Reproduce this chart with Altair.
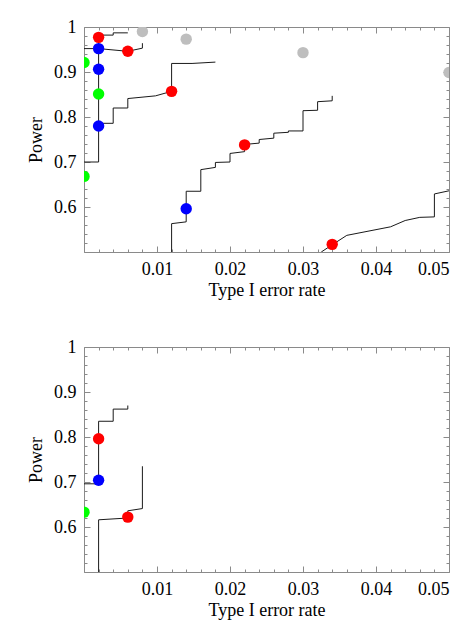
import altair as alt
import pandas as pd

# ---------------- data ----------------
# Top panel: step curves
T1_X = [0.0, 0.002, 0.002, 0.004, 0.004, 0.006]
T1_Y = [0.700, 0.700, 0.982, 0.982, 0.987, 0.987]
T2_X = [0.0, 0.002, 0.006, 0.008, 0.008]
T2_Y = [0.952, 0.952, 0.946, 0.953, 0.964]
T3_X = [0.002, 0.004, 0.004, 0.006, 0.006, 0.0098, 0.012, 0.012, 0.0148, 0.018]
T3_Y = [0.786, 0.786, 0.820, 0.820, 0.841, 0.847, 0.857, 0.919, 0.919, 0.922]
T4_X = [0.012, 0.012, 0.014, 0.014, 0.016, 0.016, 0.018, 0.018, 0.020, 0.020,
        0.022, 0.022, 0.024, 0.024, 0.026, 0.026, 0.028, 0.028, 0.030, 0.030,
        0.032, 0.032, 0.034, 0.034]
T4_Y = [0.490, 0.563, 0.567, 0.635, 0.635, 0.683, 0.688, 0.699, 0.700, 0.719,
        0.723, 0.739, 0.742, 0.750, 0.753, 0.764, 0.766, 0.769, 0.769, 0.814,
        0.815, 0.834, 0.836, 0.847]
T5_X = [0.0325, 0.034, 0.036, 0.042, 0.044, 0.046, 0.048, 0.048, 0.050]
T5_Y = [0.500, 0.516, 0.537, 0.556, 0.570, 0.577, 0.578, 0.629, 0.636]

# Top panel: dots
TP_X = [0.002, 0.006, 0.012, 0.022, 0.034,
        0.002, 0.002, 0.002, 0.014,
        0.0, 0.002, 0.0,
        0.008, 0.014, 0.030, 0.050]
TP_Y = [0.977, 0.946, 0.857, 0.738, 0.517,
        0.952, 0.906, 0.780, 0.596,
        0.921, 0.851, 0.668,
        0.990, 0.973, 0.943, 0.899]
TP_C = ["red"] * 5 + ["blue"] * 4 + ["green"] * 3 + ["gray"] * 4

# Bottom panel: step curves
B1_X = [0.0, 0.002, 0.002, 0.004, 0.004, 0.006, 0.006]
B1_Y = [0.696, 0.696, 0.835, 0.835, 0.862, 0.862, 0.870]
B2_X = [0.002, 0.002, 0.006, 0.006, 0.008, 0.008]
B2_Y = [0.490, 0.616, 0.620, 0.636, 0.641, 0.735]

# Bottom panel: dots
BP_X = [0.002, 0.006, 0.002, 0.0]
BP_Y = [0.796, 0.622, 0.704, 0.633]
BP_C = ["red", "red", "blue", "green"]

COLORS = {"red": "#ff0000", "blue": "#0000ff", "green": "#00ff00", "gray": "#bebebe"}

X_LABELS = [0.01, 0.02, 0.03, 0.04, 0.05]
Y_LABELS = [0.6, 0.7, 0.8, 0.9, 1.0]
X_TICKS = [round(i * 0.002, 3) for i in range(26)]
Y_TICKS = [round(0.5 + i * 0.02, 2) for i in range(26)]

W, H = 365, 225
FONT = "Liberation Serif"
FRAME = "#8a8a8a"


def build_lines(curves):
    rows = []
    for name, (xs, ys) in curves.items():
        for i, (x, y) in enumerate(zip(xs, ys)):
            rows.append({"x": x, "y": y, "curve": name, "idx": i})
    return pd.DataFrame(rows)


def build_points(xs, ys, cs):
    return pd.DataFrame({"x": xs, "y": ys, "c": [COLORS[c] for c in cs]})


xs = alt.Scale(domain=[0, 0.05], nice=False, zero=False)
ys = alt.Scale(domain=[0.5, 1.0], nice=False, zero=False)

x_major = {"condition": {"test": "abs(datum.value*100 - round(datum.value*100)) < 0.01", "value": 6}, "value": 3}
y_major = {"condition": {"test": "abs(datum.value*10 - round(datum.value*10)) < 0.01", "value": 6}, "value": 3}


def tick_axis(orient, offset, major):
    return alt.Axis(orient=orient, offset=offset, values=X_TICKS if orient in ("top", "bottom") else Y_TICKS,
                    labels=False, title=None, domain=False, grid=False, ticks=True,
                    tickSize=major, tickColor=FRAME, tickWidth=1)


def panel(lines_df, pts_df):
    lines = alt.Chart(lines_df).mark_line(clip=True, color="#1a1a1a", strokeWidth=1).encode(
        x=alt.X("x:Q", scale=xs, axis=alt.Axis(values=X_LABELS, format="~g", ticks=False, tickSize=0,
                                               domain=False, grid=False, labelPadding=8,
                                               title="Type I error rate", titlePadding=3)),
        y=alt.Y("y:Q", scale=ys, axis=alt.Axis(values=Y_LABELS, format="~g", ticks=False, tickSize=0,
                                               domain=False, grid=False, labelPadding=8,
                                               title="Power", titlePadding=8)),
        detail="curve:N",
        order="idx:Q",
    )
    pts = alt.Chart(pts_df).mark_circle(clip=True, size=130, opacity=1).encode(
        x=alt.X("x:Q", scale=xs, axis=tick_axis("top", -H, x_major)),
        y=alt.Y("y:Q", scale=ys, axis=tick_axis("right", -W, y_major)),
        color=alt.Color("c:N", scale=None),
    )
    ghost = alt.Chart(pts_df).mark_circle(opacity=0).encode(
        x=alt.X("x:Q", scale=xs, axis=tick_axis("bottom", -H, x_major)),
        y=alt.Y("y:Q", scale=ys, axis=tick_axis("left", -W, y_major)),
    )
    return alt.layer(lines, ghost, pts).resolve_axis(x="independent", y="independent").properties(
        width=W, height=H)


top_lines = build_lines({"t1": (T1_X, T1_Y), "t2": (T2_X, T2_Y), "t3": (T3_X, T3_Y),
                         "t4": (T4_X, T4_Y), "t5": (T5_X, T5_Y)})
bot_lines = build_lines({"b1": (B1_X, B1_Y), "b2": (B2_X, B2_Y)})

top = panel(top_lines, build_points(TP_X, TP_Y, TP_C))
bottom = panel(bot_lines, build_points(BP_X, BP_Y, BP_C))

chart = alt.VConcatChart(vconcat=[top, bottom], spacing=95, bounds="flush").properties(
    padding={"left": 19, "top": 9, "right": 0, "bottom": 5}
).configure_axis(
    labelFont=FONT, labelFontSize=18, labelColor="black",
    titleFont=FONT, titleFontSize=18, titleFontWeight="normal", titleColor="black",
).configure_view(stroke=FRAME, strokeWidth=1)

chart.save("out.html", embed_options={"renderer": "svg", "actions": False})
